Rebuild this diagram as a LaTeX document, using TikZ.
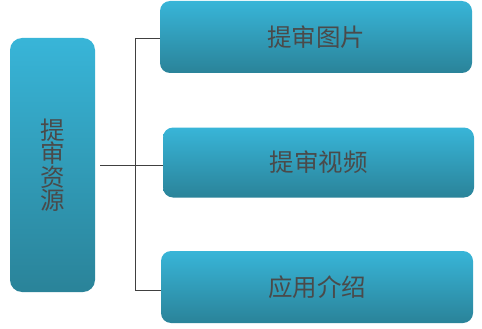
\documentclass[tikz,border=0pt]{standalone}
\usepackage{fontspec}
\newfontfamily\cjk{Noto Sans CJK SC}
\definecolor{topc}{HTML}{38B5D8}
\definecolor{botc}{HTML}{2A8399}
\definecolor{txt}{HTML}{4A4A4A}
\definecolor{ln}{HTML}{404040}
\begin{document}
\begin{tikzpicture}[x=1pt,y=-1pt,
  boxstyle/.style={top color=topc, bottom color=botc, draw=none, inner sep=0pt,
    font=\cjk\fontsize{24.5}{26}\selectfont, text=txt},
  conn/.style={draw=ln, line width=0.8pt}]
\useasboundingbox (0,0) rectangle (482,329);
\node[boxstyle, rounded corners=12pt, minimum width=85pt, minimum height=254pt,
  text width=26pt, align=center] (src) at (52.5,165) {提\\[-2.5pt]审\\[-2.5pt]资\\[-2.5pt]源};
\node[boxstyle, rounded corners=10pt, minimum width=312pt, minimum height=72pt] (b1) at (316,37) {提审图片};
\node[boxstyle, rounded corners=10pt, minimum width=311pt, minimum height=70pt] (b2) at (318.5,162.5) {提审视频};
\node[boxstyle, rounded corners=10pt, minimum width=312pt, minimum height=72pt] (b3) at (317,287) {应用介绍};
\coordinate (top) at (135,38);
\coordinate (bot) at (135,290);
\coordinate (mid) at (100,165);
\draw[conn] (top) -- (bot);
\draw[conn] (top) -- (top -| b1.west);
\draw[conn] (bot) -- (bot -| b3.west);
\draw[conn] (mid) -- (mid -| b2.west);
\end{tikzpicture}
\end{document}
